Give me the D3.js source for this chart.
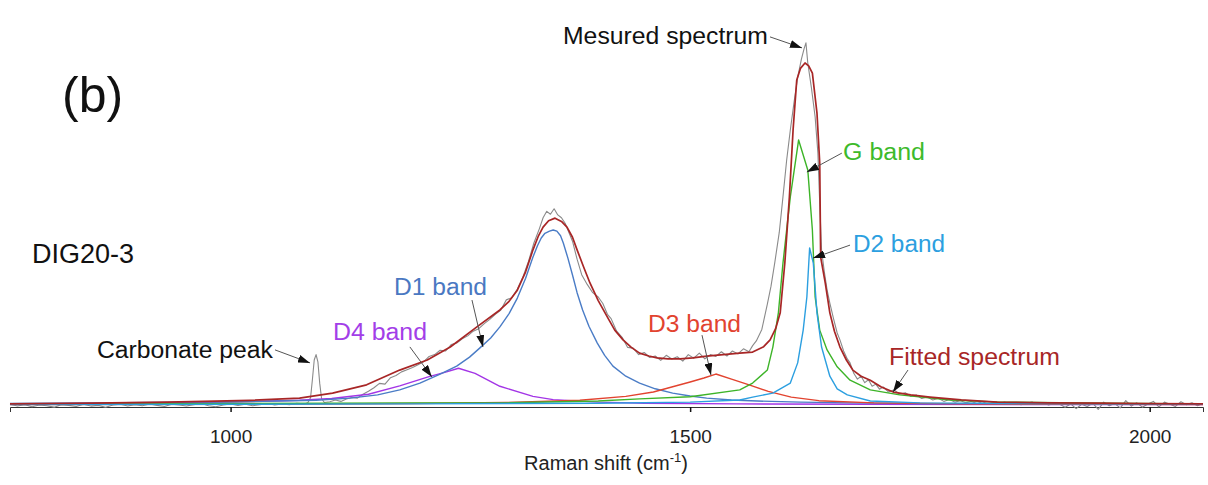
<!DOCTYPE html>
<html>
<head>
<meta charset="utf-8">
<script src="https://cdn.jsdelivr.net/npm/d3@7"></script>
<style>
  body { margin: 0; background: #fff; }
  text { font-family: "Liberation Sans", Arial, sans-serif; }
</style>
</head>
<body>
<div id="chart"></div>
<script>
// Step 1: data ([Raman shift cm-1, intensity a.u.])
//= ================================
var measured = [
  [760,2],[768,-3],[776,1],[784,-5],[792,0],[800,-2],[808,-6],[816,1],[824,-1],[832,-4],
  [840,2],[848,-3],[856,-1],[864,-6],[872,0],[880,2],[888,-3],[896,1],[904,-2],[912,3],
  [920,-1],[928,-4],[936,2],[944,0],[952,-3],[960,1],[968,4],[976,-2],[984,-5],[992,0],
  [1000,3],[1008,-1],[1016,2],[1024,-2],[1032,1],[1040,4],[1048,0],[1056,3],[1064,1],[1072,5],
  [1080,3],[1084,6],[1087,20],[1089,70],[1091,125],[1093,140],[1095,120],[1097,60],[1099,18],[1102,7],
  [1108,9],[1114,14],[1120,10],[1126,17],[1132,21],[1138,19],[1144,30],[1150,38],[1156,48],[1162,60],
  [1168,58],[1174,76],[1180,82],[1186,92],[1192,98],[1198,104],[1204,112],[1210,120],[1216,135],[1222,140],
  [1228,152],[1234,150],[1240,168],[1246,172],[1252,184],[1258,192],[1264,205],[1270,212],[1276,226],[1282,238],
  [1288,252],[1294,264],[1300,292],[1306,298],[1312,322],[1318,355],[1324,398],[1330,450],[1336,490],[1340,520],
  [1344,538],[1348,530],[1352,545],[1356,528],[1360,520],[1364,505],[1368,480],[1372,455],[1377,405],[1382,362],
  [1388,335],[1394,312],[1400,300],[1405,282],[1410,252],[1414,240],[1420,205],[1426,188],[1432,160],[1438,158],
  [1444,140],[1450,146],[1456,132],[1462,136],[1468,124],[1474,138],[1480,128],[1486,134],[1492,122],[1498,140],
  [1504,130],[1510,144],[1516,128],[1522,140],[1528,135],[1534,148],[1540,136],[1546,150],[1552,142],[1558,156],
  [1564,148],[1568,165],[1572,178],[1578,210],[1584,280],[1588,330],[1592,394],[1597,480],[1601,578],[1605,680],
  [1609,764],[1613,840],[1617,910],[1621,960],[1624,990],[1626,1006],[1628,950],[1632,880],[1636,800],[1639,700],
  [1641,560],[1643,430],[1646,370],[1649,320],[1652,283],[1656,240],[1660,200],[1663,181],[1667,150],[1671,128],
  [1674,117],[1678,88],[1682,72],[1686,80],[1690,62],[1694,70],[1698,52],[1702,58],[1706,44],[1710,50],
  [1716,36],[1722,42],[1728,30],[1734,34],[1740,24],[1746,28],[1752,18],[1758,22],[1764,14],[1770,19],
  [1776,10],[1782,15],[1788,8],[1794,12],[1800,6],[1806,10],[1812,4],[1818,9],[1824,3],[1830,7],
  [1836,2],[1842,8],[1848,3],[1854,6],[1860,1],[1866,5],[1872,8],[1878,2],[1884,6],[1890,0],
  [1896,4],[1902,2],[1908,-6],[1914,3],[1920,-10],[1926,2],[1932,-4],[1938,5],[1944,-12],[1950,8],
  [1956,-2],[1962,4],[1968,-8],[1974,12],[1980,-3],[1986,6],[1992,-6],[1998,3],[2004,10],[2010,-5],
  [2016,8],[2022,2],[2028,-4],[2034,9],[2040,1],[2046,6],[2052,-2],[2058,4]
];

var fitted = [
  [760,3],[850,5],[931,8],[1021,13],[1075,19],[1111,33],[1148,56],[1184,97],[1214,125],[1239,161],
  [1268,217],[1293,264],[1303,288],[1312,319],[1321,370],[1329,431],[1335,470],[1340,494],[1346,512],[1353,519],
  [1360,510],[1366,494],[1372,466],[1377,431],[1384,384],[1391,339],[1400,290],[1410,244],[1418,208],[1427,181],
  [1436,160],[1445,144],[1455,136],[1464,131],[1476,128],[1489,128],[1503,131],[1518,136],[1536,140],[1554,144],
  [1568,147],[1580,162],[1587,181],[1593,212],[1598,256],[1603,394],[1608,578],[1612,764],[1616,903],[1620,935],
  [1625,950],[1629,942],[1633,922],[1638,811],[1641,672],[1642,411],[1647,339],[1652,256],[1657,205],[1663,161],
  [1670,125],[1677,97],[1686,80],[1696,69],[1708,50],[1721,36],[1740,28],[1761,22],[1795,14],[1834,8],
  [1890,6],[1946,5],[2000,4],[2058,3]
];

var d1Band = [
  [760,4],[850,6],[950,8],[1000,9],[1050,11],[1093,13],[1130,19],[1160,28],[1184,42],[1206,61],
  [1228,86],[1246,108],[1260,133],[1271,158],[1283,186],[1293,217],[1303,254],[1312,297],[1321,352],[1329,411],
  [1334,443],[1338,464],[1342,477],[1347,483],[1351,486],[1355,483],[1359,470],[1362,450],[1367,408],[1372,361],
  [1377,312],[1383,264],[1390,218],[1399,172],[1407,138],[1416,108],[1430,80],[1445,61],[1462,45],[1481,33],
  [1500,25],[1518,19],[1545,14],[1573,11],[1620,8],[1674,6],[1750,4],[1837,3],[2058,2]
];

var d4Band = [
  [760,3],[900,5],[1000,8],[1075,13],[1110,18],[1150,30],[1184,53],[1215,78],[1235,92],[1248,102],
  [1266,88],[1293,52],[1329,24],[1351,15],[1400,8],[1450,5],[1550,3],[1700,2],[2058,1]
];

var d3Band = [
  [760,1],[1000,2],[1200,4],[1300,7],[1380,13],[1430,24],[1460,36],[1480,50],[1500,64],[1515,75],
  [1528,86],[1545,72],[1565,55],[1585,38],[1610,22],[1640,12],[1700,6],[1800,3],[2058,1]
];

var gBand = [
  [760,2],[900,3],[1000,4],[1200,6],[1293,6],[1400,11],[1445,17],[1500,23],[1554,42],[1568,61],
  [1584,97],[1590,161],[1596,256],[1601,394],[1609,578],[1618,736],[1628,653],[1633,486],[1636,300],[1641,208],
  [1649,153],[1660,106],[1674,69],[1696,42],[1728,28],[1783,14],[1837,8],[1950,5],[2058,3]
];

var d2Band = [
  [760,1],[1200,3],[1400,5],[1500,8],[1554,14],[1568,22],[1590,33],[1609,61],[1617,117],[1623,208],
  [1627,300],[1630,436],[1634,394],[1638,256],[1643,161],[1652,80],[1660,45],[1671,28],[1696,11],[1750,6],
  [1850,4],[2058,2]
];

var tickValues = [1000, 1500, 2000];

// Step 2: svg + scales
//= ================================
var svgWidth = 1208;
var svgHeight = 485;

var svg = d3.select("#chart")
  .append("svg")
  .attr("width", svgWidth)
  .attr("height", svgHeight);

var xScale = d3.scaleLinear().domain([760, 2058]).range([10, 1203]);
var yScale = d3.scaleLinear().domain([0, 1000]).range([405, 45]);

// arrow head
svg.append("defs").append("marker")
  .attr("id", "head")
  .attr("viewBox", "0 0 12 8")
  .attr("refX", 12)
  .attr("refY", 4)
  .attr("markerWidth", 12)
  .attr("markerHeight", 8)
  .attr("markerUnits", "userSpaceOnUse")
  .attr("orient", "auto")
  .append("path")
  .attr("d", "M0,0 L12,4 L0,8 Z")
  .attr("fill", "#111");

// x axis
var xAxis = svg.append("g")
  .attr("transform", "translate(0, 407)")
  .call(d3.axisBottom(xScale)
    .tickValues(tickValues)
    .tickFormat(d3.format("d"))
    .tickSize(5)
    .tickPadding(18));
xAxis.select(".domain").attr("stroke", "#333").attr("stroke-width", 1);
xAxis.selectAll(".tick line").attr("stroke", "#111").attr("stroke-width", 1.5);
xAxis.selectAll(".tick text")
  .style("font-family", "'Liberation Sans', Arial, sans-serif")
  .style("font-size", "19px")
  .attr("fill", "#222");

var title = svg.append("text")
  .attr("x", 606)
  .attr("y", 470)
  .attr("text-anchor", "middle")
  .style("font-size", "20px")
  .attr("fill", "#222");
title.append("tspan").text("Raman shift (cm");
title.append("tspan").attr("dy", -8).style("font-size", "13px").text("-1");
title.append("tspan").attr("dy", 8).text(")");

// Step 3: spectra
//= ================================
var line = d3.line()
  .x(d => xScale(d[0]))
  .y(d => yScale(d[1]));

var series = [
  { data: measured, color: "#8a8a8a", width: 1.1 },
  { data: d4Band, color: "#a335e6", width: 1.4 },
  { data: d1Band, color: "#4a7cc6", width: 1.4 },
  { data: d3Band, color: "#e2432f", width: 1.4 },
  { data: gBand, color: "#3db428", width: 1.4 },
  { data: d2Band, color: "#2c9fe0", width: 1.4 },
  { data: fitted, color: "#a82626", width: 1.7 }
];

svg.selectAll(".spectrum")
  .data(series)
  .enter()
  .append("path")
  .attr("class", "spectrum")
  .attr("d", d => line(d.data))
  .attr("fill", "none")
  .attr("stroke", d => d.color)
  .attr("stroke-width", d => d.width)
  .attr("stroke-linejoin", "round");

// Step 4: labels + arrows (tip given in data units)
//= ================================
var labels = [
  { text: "Mesured spectrum", color: "#111", x: 563, y: 44, len: 205, tip: [1621.7, 992], from: [-32, -11] },
  { text: "Carbonate peak", color: "#111", x: 97, y: 358, len: 176, tip: [1086.4, 117], from: [-35, -13] },
  { text: "D4 band", color: "#a33ee8", x: 333, y: 340, len: 94, tip: [1219, 78], from: [-22, -30] },
  { text: "D1 band", color: "#4a78c2", x: 394, y: 295, len: 93, tip: [1274.6, 161], from: [-11, -47] },
  { text: "D3 band", color: "#e2432f", x: 648, y: 332, len: 93, tip: [1522.7, 83], from: [-9, -40] },
  { text: "G band", color: "#3dba2b", x: 843, y: 160, len: 82, tip: [1627, 647], from: [35, -19] },
  { text: "D2 band", color: "#2c9fe0", x: 853, y: 252, len: 92, tip: [1633.7, 408], from: [37, -13] },
  { text: "Fitted spectrum", color: "#a82626", x: 889, y: 365, len: 171, tip: [1720.7, 36], from: [15, -22] }
];

labels.forEach(function(l) {
  var tx = xScale(l.tip[0]);
  var ty = yScale(l.tip[1]);
  svg.append("line")
    .attr("x1", tx + l.from[0])
    .attr("y1", ty + l.from[1])
    .attr("x2", tx)
    .attr("y2", ty)
    .attr("stroke", "#555")
    .attr("stroke-width", 1)
    .attr("marker-end", "url(#head)");

  svg.append("text")
    .attr("x", l.x)
    .attr("y", l.y)
    .attr("textLength", l.len)
    .attr("lengthAdjust", "spacingAndGlyphs")
    .style("font-size", "23px")
    .attr("fill", l.color)
    .text(l.text);
});

svg.append("text")
  .attr("x", 62)
  .attr("y", 112)
  .style("font-size", "50px")
  .attr("fill", "#111")
  .text("(b)");

svg.append("text")
  .attr("x", 32)
  .attr("y", 263)
  .style("font-size", "27px")
  .attr("fill", "#111")
  .text("DIG20-3");
</script>
</body>
</html>
